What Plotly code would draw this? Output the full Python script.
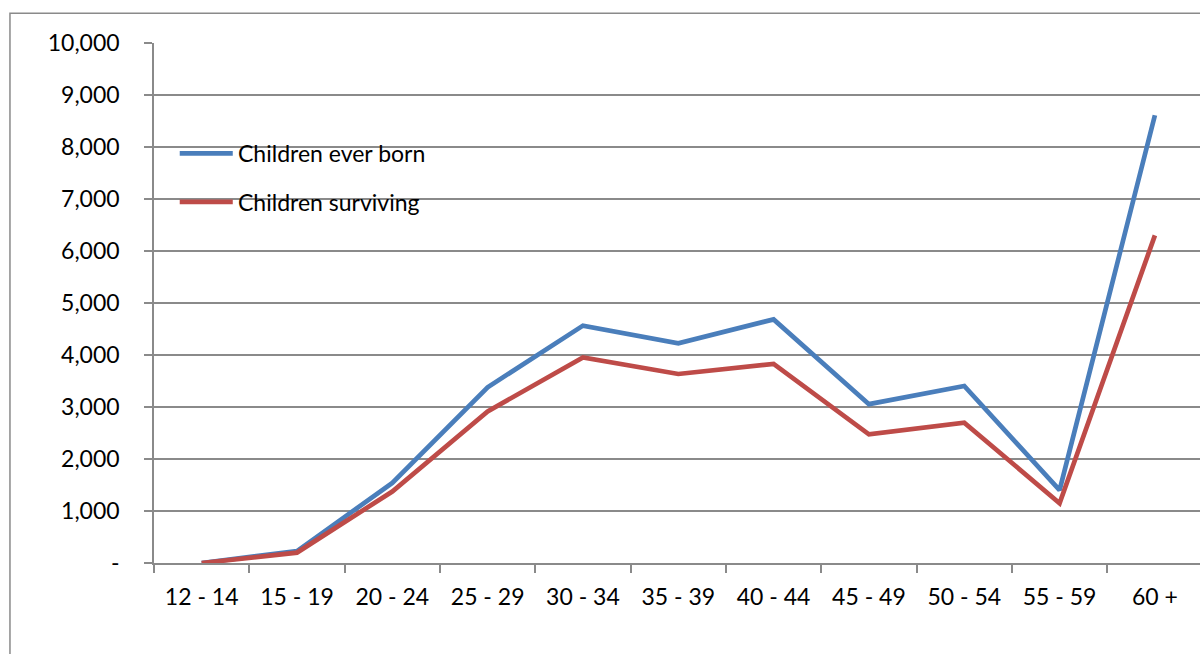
import plotly.graph_objects as go

# Age groups of mothers and the two series plotted against them
age_groups = ["12 - 14", "15 - 19", "20 - 24", "25 - 29", "30 - 34", "35 - 39",
              "40 - 44", "45 - 49", "50 - 54", "55 - 59", "60 +"]
children_ever_born = [0, 230, 1540, 3380, 4565, 4225, 4685, 3055, 3405, 1400, 8610]
children_surviving = [0, 200, 1375, 2915, 3955, 3635, 3830, 2475, 2700, 1150, 6300]

series_names = ["Children ever born", "Children surviving"]
series_colors = ["#4A7EBB", "#BE4B48"]

y_tick_values = [0, 1000, 2000, 3000, 4000, 5000, 6000, 7000, 8000, 9000, 10000]
y_tick_labels = ["-", "1,000", "2,000", "3,000", "4,000", "5,000", "6,000",
                 "7,000", "8,000", "9,000", "10,000"]

FONT = "Lato"
FONT_SIZE = 23
GRID = "#8a8a8a"

fig = go.Figure()
for name, values, color in zip(series_names,
                               [children_ever_born, children_surviving],
                               series_colors):
    fig.add_trace(go.Scatter(
        x=age_groups, y=values, name=name, mode="lines",
        line=dict(color=color, width=4.7),
        showlegend=False,
    ))

# Legend drawn as line samples with labels inside the plot area
legend_y = [0.7876, 0.6946]
for name, color, ly in zip(series_names, series_colors, legend_y):
    fig.add_shape(type="line", xref="paper", yref="paper",
                  x0=0.0246, x1=0.0753, y0=ly, y1=ly,
                  line=dict(color=color, width=4.7))
    fig.add_annotation(xref="paper", yref="paper", x=0.0785, y=ly,
                       text=name, showarrow=False, xanchor="left",
                       yanchor="middle",
                       font=dict(family=FONT, size=FONT_SIZE, color="#000000"))

# Outer chart frame
fig.add_shape(type="rect", xref="paper", yref="paper",
              x0=-0.1377, x1=1.05, y0=-0.25, y1=1.057,
              line=dict(color="#8a8a8a", width=1.5), layer="below")

fig.update_layout(
    width=1200, height=654,
    margin=dict(l=154, r=0, t=43, b=91),
    paper_bgcolor="white", plot_bgcolor="white",
    font=dict(family=FONT, size=FONT_SIZE, color="#000000"),
    xaxis=dict(
        type="category",
        range=[-0.5, 10.473],
        showgrid=False,
        showline=True, linecolor=GRID, linewidth=1.5,
        ticks="outside", tickson="boundaries", ticklen=8,
        tickcolor=GRID, tickwidth=1.5,
        ticklabelstandoff=13,
        tickfont=dict(family=FONT, size=FONT_SIZE),
        zeroline=False,
    ),
    yaxis=dict(
        range=[0, 10000],
        tickmode="array", tickvals=y_tick_values, ticktext=y_tick_labels,
        showgrid=True, gridcolor=GRID, gridwidth=1.5,
        showline=True, linecolor=GRID, linewidth=1.5,
        ticks="outside", ticklen=8, tickcolor=GRID, tickwidth=1.5,
        ticklabelstandoff=20,
        tickfont=dict(family=FONT, size=FONT_SIZE),
        zeroline=False,
    ),
)

fig.write_html("out.html")
